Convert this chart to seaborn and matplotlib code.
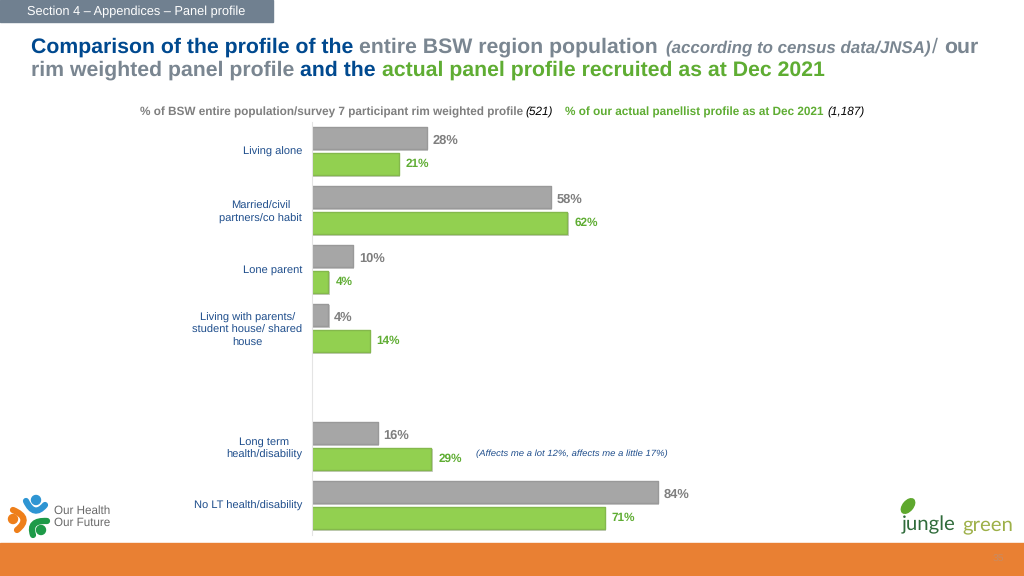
import pandas as pd
import matplotlib
matplotlib.use('Agg')
import matplotlib.pyplot as plt
import matplotlib.patheffects as pe
from matplotlib.patches import Rectangle, Circle, Ellipse, PathPatch
from matplotlib.path import Path
import seaborn as sns

#Data
categories = ['Living alone', 'Married/civil\npartners/co habit', 'Lone parent',
              'Living with parents/\nstudent house/ shared\nhouse', ' ',
              'Long term\nhealth/disability', 'No LT health/disability']
population = [28, 58, 10, 4, None, 16, 84]
panel = [21, 62, 4, 14, None, 29, 71]

GREY = '#A6A6A6'
GREEN = '#92D050'
TXT_GREEN = '#5FAD33'
NAVY = '#00498F'
SLATE = '#7A8691'
LABEL_NAVY = '#1F4E8C'

df = pd.DataFrame({
    'category': categories * 2,
    'value': population + panel,
    'series': ['population'] * 7 + ['panel'] * 7
})

sns.set_theme(style='white')
plt.rcParams['font.family'] = ['Liberation Sans', 'DejaVu Sans']
plt.rcParams['text.hinting'] = 'no_hinting'

fig = plt.figure(figsize=(10.24, 5.76), dpi=100, facecolor='white')

def px(x, y):
    return x / 1024, 1 - y / 576

#Chart
ax = fig.add_axes([312 / 1024, 1 - 534.5 / 576, 712 / 1024, 413 / 576])
ax.patch.set_alpha(0)
sns.barplot(
    data=df, y='category', x='value', hue='series', order=categories,
    hue_order=['population', 'panel'], palette=[GREY, GREEN], saturation=1,
    orient='h', width=0.88, gap=0.12, legend=False, ax=ax
)
ax.set_xlim(0, 712 / 4.12)
ax.set_xlabel('')
ax.set_ylabel('')
ax.set_xticks([])
ax.tick_params(axis='y', length=0, pad=7)
for lab in ax.get_yticklabels():
    lab.set_fontsize(8.05)
    lab.set_color(LABEL_NAVY)
    lab.set_multialignment('center')
    lab.set_linespacing(1.3)
for s in ['top', 'right', 'bottom']:
    ax.spines[s].set_visible(False)
ax.spines['left'].set_color('#E4E4E4')
ax.spines['left'].set_linewidth(0.8)

shadow = [pe.SimplePatchShadow(offset=(0.8, -0.8), alpha=0.25), pe.Normal()]
edges = ['#999999', '#84B84C']
for cont, edge in zip(ax.containers, edges):
    for bar in cont:
        bar.set_edgecolor(edge)
        bar.set_linewidth(1)
        bar.set_joinstyle('round')
        bar.set_path_effects(shadow)
grey_labels = ax.bar_label(ax.containers[0], fmt='%d%%', padding=4, fontsize=9.3, fontweight='bold', color='#7F7F7F')
for lab in grey_labels:
    lab.xyann = (lab.xyann[0], lab.xyann[1] - 1.8)
ax.bar_label(ax.containers[1], fmt='%d%%', padding=5, fontsize=8.5, fontweight='bold', color=TXT_GREEN)

#Header texts
deco = fig.add_axes([0, 0, 1, 1], zorder=-1)
deco.set_xlim(0, 1024)
deco.set_ylim(576, 0)
deco.axis('off')
deco.add_patch(Rectangle((0, 0), 273, 22, color='#708090'))
deco.add_patch(Rectangle((0, 543), 1024, 33, color='#E98033'))

def put(x, y, s, color, size, weight='bold', style='normal'):
    fx, fy = px(x, y)
    fig.text(fx, fy, s, color=color, fontsize=size, fontweight=weight, fontstyle=style, va='center', ha='left')

put(27, 11.5, 'Section 4 – Appendices – Panel profile', 'white', 9.15, 'normal')

put(31, 47.5, 'Comparison of the profile of the', NAVY, 15.35)
put(359, 47.5, 'entire BSW region population', SLATE, 15.35)
put(666, 48.5, '(according to census data/JNSA)', SLATE, 12.2, 'bold', 'italic')
put(932, 47, '/', SLATE, 15.35, 'normal')
put(944, 47.5, 'our', SLATE, 15.35)
put(31, 70.5, 'rim weighted panel profile', SLATE, 15.35)
put(300, 70.5, 'and the', NAVY, 15.35)
put(382, 70.5, 'actual panel profile recruited as at Dec 2021', TXT_GREEN, 15.35)

put(140, 112.5, '% of BSW entire population/survey 7 participant rim weighted profile', '#7F7F7F', 8.45)
put(525, 112.5, '(521)', 'black', 8.45, 'normal', 'italic')
put(565, 112.5, '% of our actual panellist profile as at Dec 2021', TXT_GREEN, 8.45)
put(827, 112.5, '(1,187)', 'black', 8.45, 'normal', 'italic')

put(476, 454, '(Affects me a lot 12%, affects me a little 17%)', LABEL_NAVY, 6.8, 'normal', 'italic')

#Logos
def curve(p0, p1, p2, color):
    path = Path([p0, p1, p2], [Path.MOVETO, Path.CURVE3, Path.CURVE3])
    deco.add_patch(PathPatch(path, fill=False, edgecolor=color, lw=4.5, capstyle='round'))

deco.add_patch(Circle((36, 500), 4.5, color='#2E95D3'))
curve((26, 501), (34, 518), (45, 505), '#2E95D3')
deco.add_patch(Circle((13, 519), 4.5, color='#EE7F1A'))
curve((13, 510), (32, 518), (17, 530), '#EE7F1A')
deco.add_patch(Circle((41, 530), 4.5, color='#1E9A48'))
curve((47, 521), (28, 520), (33, 535), '#1E9A48')
put(54, 511, 'Our Health', '#6A6A6A', 8.4, 'normal')
put(54, 523, 'Our Future', '#6A6A6A', 8.4, 'normal')

deco.add_patch(Ellipse((908, 506), 10, 17, angle=40, color='#5FA82E'))
fx, fy = px(902, 525)
fig.text(fx, fy, 'jungle', color='#2F6B3A', fontsize=14.7, family='Lato', va='center', ha='left')
fx, fy = px(962, 525)
fig.text(fx, fy, 'green', color='#9DB048', fontsize=14.7, family='Lato', va='center', ha='left')

put(993, 559, '35', '#C98B62', 7.5, 'normal')

fig.savefig('out.png', dpi=100)
